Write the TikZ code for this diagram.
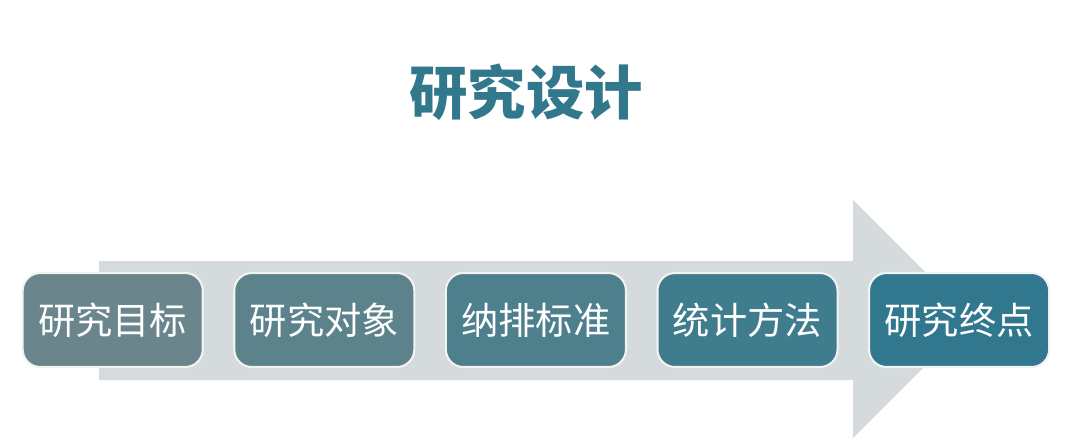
\documentclass[tikz,border=0pt]{standalone}
\usepackage{fontspec}
\usepackage{tikz}
\usepackage{xcolor}
\newfontfamily\cjk{Noto Sans CJK SC}
\definecolor{titleblue}{RGB}{49,120,140}
\definecolor{arrowgray}{RGB}{213,218,220}
\definecolor{boxstart}{RGB}{106,134,140}
\definecolor{boxend}{RGB}{49,120,142}

\tikzset{
  stagebox/.style={rectangle, rounded corners=5pt, minimum width=1.8cm, minimum height=0.94cm,
    draw=white!90!gray, line width=0.6pt, text=white, font=\cjk\fontsize{10.6}{12}\selectfont, inner sep=0pt}
}

\begin{document}
\begin{tikzpicture}[x=0.01cm,y=0.01cm]
                \useasboundingbox (0,0) rectangle (1080,444);

                % Title
                \node[text=titleblue, font=\cjk\bfseries\fontsize{16.6}{18}\selectfont] (title) at (526,352) {研究设计};

                % Big arrow
                \fill[arrowgray] (99,64) -- (853,64) -- (853,6) -- (972,125) -- (853,244) -- (853,183) -- (99,183) -- cycle;

                % Stages
                \foreach \i/\txt/\pct in {0/研究目标/100,1/研究对象/75,2/纳排标准/50,3/统计方法/25,4/研究终点/0}
                    \node[stagebox, fill=boxstart!\pct!boxend] (box\i) at (112.7+211.6*\i,124) {\txt};
            \end{tikzpicture}
\end{document}
